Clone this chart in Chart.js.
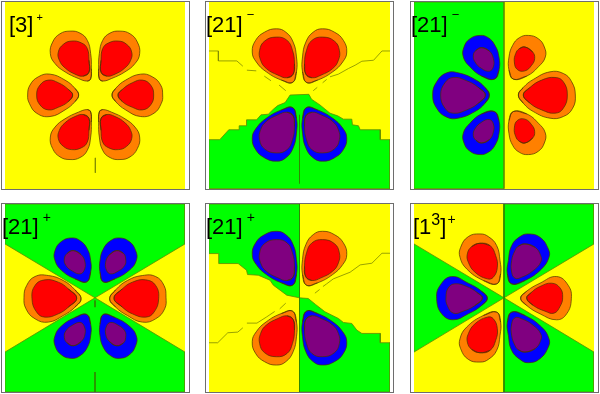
<!DOCTYPE html>
<html lang="en">
<head>
<meta charset="UTF-8">
<title>Contour panels</title>
<script src="https://cdn.jsdelivr.net/npm/chart.js"></script>
<style>
    body { margin: 0; background: #fff; font-family: "Liberation Sans", Arial, sans-serif; }
    .frame { position: absolute; border: 1px solid #6e6e6e; box-sizing: border-box; }
    canvas { position: absolute; }
    .label { position: absolute; font-size: 22px; line-height: 24px; color: #000; white-space: nowrap; }
    .label sup { line-height: 0; vertical-align: baseline; position: relative; }
</style>
</head>
<body>
<script>
// contour vertices, [x, y] from the centre of each panel
// panel 1 [3]+
const a1OuterTL = [[-13,50],[-11,81],[-13,126],[-23,166],[-45,188],[-75,194],[-105,186],[-127,161],[-134,126],[-120,96],[-90,71],[-50,51],[-23,43]];
const a1InnerTL = [[-18,70],[-18,106],[-23,141],[-40,158],[-70,164],[-95,154],[-110,131],[-107,106],[-90,83],[-60,64],[-35,58]];
const a1OuterTR = [[13,50],[11,81],[13,126],[23,166],[45,188],[75,194],[105,186],[127,161],[134,126],[120,96],[90,71],[50,51],[23,43]];
const a1InnerTR = [[18,70],[18,106],[23,141],[40,158],[70,164],[95,154],[110,131],[107,106],[90,83],[60,64],[35,58]];
const a1OuterBL = [[-13,-50],[-11,-81],[-13,-126],[-23,-166],[-45,-188],[-75,-194],[-105,-186],[-127,-161],[-134,-126],[-120,-96],[-90,-71],[-50,-51],[-23,-43]];
const a1InnerBL = [[-18,-70],[-18,-106],[-23,-141],[-40,-158],[-70,-164],[-95,-154],[-110,-131],[-107,-106],[-90,-83],[-60,-64],[-35,-58]];
const a1OuterBR = [[13,-50],[11,-81],[13,-126],[23,-166],[45,-188],[75,-194],[105,-186],[127,-161],[134,-126],[120,-96],[90,-71],[50,-51],[23,-43]];
const a1InnerBR = [[18,-70],[18,-106],[23,-141],[40,-158],[70,-164],[95,-154],[110,-131],[107,-106],[90,-83],[60,-64],[35,-58]];
const a1OuterL = [[-49,1],[-60,-19],[-90,-44],[-135,-64],[-175,-54],[-197,-24],[-202,1],[-195,31],[-170,56],[-135,64],[-90,46],[-60,21]];
const a1InnerL = [[-67,1],[-80,-19],[-110,-36],[-140,-44],[-165,-29],[-175,1],[-165,31],[-140,46],[-110,38],[-80,18]];
const a1OuterR = [[51,1],[62,-19],[92,-44],[137,-64],[177,-54],[199,-24],[203,1],[197,31],[172,56],[137,64],[92,46],[62,21]];
const a1InnerR = [[69,1],[82,-19],[112,-36],[142,-44],[167,-29],[176,1],[167,31],[142,46],[112,38],[82,18]];
const a1Tick = [[1,-189],[1,-234]];

// panel 2 [21]-
const a2Green = [[-270,-134],[-238,-134],[-211,-104],[-180,-104],[-180,-92],[-158,-92],[-158,-74],[-128,-74],[-115,-59],[-93,-57],[-78,-42],[-65,-31],[-43,-22],[-28,1],[28,3],[36,-12],[61,-29],[91,-54],[114,-62],[131,-72],[156,-72],[158,-89],[176,-92],[181,-104],[241,-104],[241,-134],[270,-134],[270,-282],[-270,-282]];
const a2OuterTL = [[-21,39],[-9,71],[-9,116],[-19,161],[-41,191],[-69,201],[-104,191],[-131,166],[-141,131],[-129,101],[-99,71],[-54,46]];
const a2InnerTL = [[-19,64],[-15,96],[-21,136],[-37,166],[-69,176],[-104,164],[-119,136],[-116,106],[-99,81],[-64,61],[-37,53]];
const a2OuterTR = [[21,39],[9,71],[9,116],[19,161],[41,191],[69,201],[104,191],[131,166],[141,131],[129,101],[99,71],[54,46]];
const a2InnerTR = [[19,64],[15,96],[21,136],[37,166],[69,176],[104,164],[119,136],[116,106],[99,81],[64,61],[37,53]];
const a2OuterBL = [[-21,-37],[-9,-69],[-9,-114],[-19,-159],[-41,-189],[-69,-199],[-104,-189],[-131,-164],[-141,-129],[-129,-99],[-99,-69],[-54,-44]];
const a2InnerBL = [[-19,-62],[-15,-94],[-21,-134],[-37,-164],[-69,-174],[-104,-162],[-119,-134],[-116,-104],[-99,-79],[-64,-59],[-37,-51]];
const a2OuterBR = [[21,-37],[9,-69],[9,-114],[19,-159],[41,-189],[69,-199],[104,-189],[131,-164],[141,-129],[129,-99],[99,-69],[54,-44]];
const a2InnerBR = [[19,-62],[15,-94],[21,-134],[37,-164],[69,-174],[104,-162],[119,-134],[116,-104],[99,-79],[64,-59],[37,-51]];
const a2Left1 = [[-270,134],[-242,134],[-242,104],[-187,104],[-169,88]];
const a2Left2 = [[-157,76],[-129,74]];
const a2Left3 = [[-105,58],[-85,44]];
const a2Left4 = [[-61,31],[-41,14]];
const a2Right1 = [[41,14],[53,24]];
const a2Right2 = [[69,38],[81,48]];
const a2Right3 = [[91,56],[116,64],[146,81],[166,91],[186,103],[221,106],[246,134],[270,134]];
const a2Stem = [[0,-59],[0,-266]];

// panel 3 [21]-
const a3Green = [[-270,282],[0,282],[0,-282],[-270,-282]];
const a3OuterTL = [[-29,49],[-15,76],[-15,116],[-27,151],[-47,174],[-72,181],[-102,171],[-120,146],[-122,116],[-102,86],[-67,58]];
const a3InnerTL = [[-67,144],[-44,134],[-32,111],[-32,86],[-44,73],[-67,81],[-87,101],[-92,121],[-84,136]];
const a3OuterL = [[-44,1],[-57,-24],[-87,-49],[-137,-69],[-172,-66],[-202,-39],[-214,1],[-202,41],[-172,68],[-137,68],[-87,48],[-57,24]];
const a3InnerL = [[-56,1],[-77,-24],[-112,-44],[-152,-54],[-177,-39],[-190,1],[-177,38],[-152,54],[-112,44],[-77,24]];
const a3OuterBL = [[-29,-49],[-15,-76],[-15,-116],[-27,-151],[-47,-172],[-72,-179],[-102,-169],[-120,-144],[-122,-114],[-102,-84],[-67,-56]];
const a3InnerBL = [[-67,-144],[-44,-134],[-32,-111],[-32,-86],[-44,-73],[-67,-81],[-87,-101],[-92,-121],[-84,-136]];
const a3OuterTR = [[28,49],[15,76],[15,116],[26,151],[46,174],[73,181],[103,171],[121,146],[124,116],[103,86],[68,58]];
const a3InnerTR = [[63,146],[86,131],[92,111],[83,91],[63,74],[40,78],[31,101],[35,126],[46,141]];
const a3OuterR = [[43,1],[58,-24],[88,-49],[138,-69],[178,-64],[206,-39],[214,1],[203,41],[178,66],[138,71],[88,48],[58,24]];
const a3InnerR = [[58,1],[78,-24],[113,-44],[153,-54],[178,-39],[190,1],[178,41],[153,54],[113,46],[78,24]];
const a3OuterBR = [[28,-49],[15,-76],[15,-116],[26,-151],[46,-172],[73,-179],[103,-169],[121,-144],[124,-114],[103,-84],[68,-56]];
const a3InnerBR = [[63,-144],[86,-129],[92,-109],[83,-89],[63,-72],[40,-76],[31,-99],[35,-124],[46,-139]];

// panel 4 [21]+
const a4Green = [[-270,282],[270,282],[270,162],[0,0],[270,-163],[270,-283],[-270,-283],[-270,-163],[0,0],[-270,162]];
const a4OuterL = [[-42,-3],[-60,-28],[-95,-53],[-140,-73],[-180,-63],[-207,-33],[-213,2],[-205,37],[-180,64],[-140,67],[-95,52],[-60,24]];
const a4InnerL = [[-55,-1],[-80,-28],[-110,-48],[-150,-58],[-175,-43],[-189,-3],[-180,37],[-150,54],[-110,47],[-80,27]];
const a4OuterR = [[44,-3],[62,-28],[97,-53],[142,-73],[182,-63],[209,-33],[213,2],[207,37],[182,64],[142,67],[97,52],[62,24]];
const a4InnerR = [[57,-1],[82,-28],[112,-48],[152,-58],[177,-43],[191,-3],[182,37],[152,54],[112,47],[82,27]];
const a4OuterTL = [[-25,48],[-13,77],[-13,112],[-23,147],[-45,172],[-70,180],[-100,170],[-120,142],[-120,112],[-100,82],[-60,57]];
const a4InnerTL = [[-65,142],[-42,130],[-30,107],[-33,82],[-45,72],[-67,80],[-87,97],[-92,117],[-83,134]];
const a4OuterTR = [[25,48],[15,77],[15,112],[25,147],[47,172],[72,180],[102,170],[122,142],[124,112],[102,82],[60,57]];
const a4InnerTR = [[65,142],[44,130],[32,107],[35,82],[47,72],[69,80],[89,97],[92,117],[85,134]];
const a4OuterBL = [[-25,-50],[-13,-79],[-13,-114],[-23,-149],[-45,-174],[-70,-182],[-100,-172],[-120,-144],[-120,-114],[-100,-84],[-60,-59]];
const a4InnerBL = [[-65,-144],[-42,-132],[-30,-109],[-33,-84],[-45,-74],[-67,-82],[-87,-99],[-92,-119],[-83,-136]];
const a4OuterBR = [[25,-50],[15,-79],[15,-114],[25,-149],[47,-174],[72,-182],[102,-172],[122,-144],[124,-114],[102,-84],[60,-59]];
const a4InnerBR = [[65,-144],[44,-132],[32,-109],[35,-84],[47,-74],[69,-82],[89,-99],[92,-119],[85,-136]];
const a4Dash = [[0,-8],[0,-28]];
const a4Stem = [[0,-223],[0,-283]];

// panel 5 [21]+
const a5GreenTL = [[-270,282],[0,282],[0,0],[-38,8],[-58,23],[-78,38],[-88,53],[-123,68],[-155,70],[-158,83],[-183,103],[-241,103],[-241,133],[-270,133]];
const a5GreenBR = [[0,0],[26,-2],[48,-20],[76,-42],[116,-62],[131,-74],[156,-77],[171,-97],[186,-107],[241,-107],[241,-135],[270,-135],[270,-283],[0,-283]];
const a5OuterTL = [[-21,38],[-9,70],[-9,115],[-19,160],[-41,190],[-69,200],[-104,190],[-131,165],[-141,130],[-129,100],[-99,70],[-54,45]];
const a5InnerTL = [[-19,63],[-15,95],[-21,135],[-37,165],[-69,175],[-104,163],[-119,135],[-116,105],[-99,80],[-64,60],[-37,52]];
const a5OuterTR = [[21,38],[9,70],[9,115],[19,160],[41,190],[69,200],[104,190],[131,165],[141,130],[129,100],[99,70],[54,45]];
const a5InnerTR = [[19,63],[15,95],[21,135],[37,165],[69,175],[104,163],[119,135],[116,105],[99,80],[64,60],[37,52]];
const a5OuterBL = [[-21,-40],[-9,-72],[-9,-117],[-19,-162],[-41,-192],[-69,-202],[-104,-192],[-131,-167],[-141,-132],[-129,-102],[-99,-72],[-54,-47]];
const a5InnerBL = [[-19,-65],[-15,-97],[-21,-137],[-37,-167],[-69,-177],[-104,-165],[-119,-137],[-116,-107],[-99,-82],[-64,-62],[-37,-54]];
const a5OuterBR = [[21,-40],[9,-72],[9,-117],[19,-162],[41,-192],[69,-202],[104,-192],[131,-167],[141,-132],[129,-102],[99,-72],[54,-47]];
const a5InnerBR = [[19,-65],[15,-97],[21,-137],[37,-167],[69,-177],[104,-165],[119,-137],[116,-107],[99,-82],[64,-62],[37,-54]];
const a5Right1 = [[46,14],[60,25]];
const a5Right2 = [[70,34],[81,42],[101,57],[151,77],[181,99],[216,104],[246,134],[270,134]];
const a5Left1 = [[-270,-135],[-244,-135],[-214,-105],[-184,-103],[-169,-90]];
const a5Left2 = [[-157,-76],[-127,-76],[-99,-58],[-74,-41]];
const a5Left3 = [[-59,-33],[-41,-16]];
const a5Stem = [[0,282],[0,-283]];

// panel 6 [1^3]+
const a6GreenL = [[-270,162],[0,0],[-270,-163]];
const a6GreenT = [[0,282],[270,282],[270,162],[0,0]];
const a6GreenB = [[0,0],[270,-163],[270,-283],[0,-283]];
const a6OuterTL = [[-22,42],[-10,72],[-12,112],[-22,157],[-47,184],[-72,192],[-107,184],[-130,152],[-132,122],[-112,87],[-62,52]];
const a6InnerTL = [[-72,164],[-42,157],[-25,127],[-20,92],[-32,62],[-50,57],[-87,77],[-107,107],[-110,132],[-97,154]];
const a6OuterTR = [[23,42],[10,72],[13,112],[23,157],[48,184],[73,192],[108,182],[133,147],[135,122],[113,87],[63,52]];
const a6InnerTR = [[63,162],[93,152],[110,127],[110,107],[88,82],[53,62],[33,59],[23,77],[23,112],[33,142],[43,155]];
const a6OuterL = [[-50,-1],[-67,-23],[-107,-48],[-152,-66],[-187,-48],[-202,-3],[-192,37],[-157,64],[-107,44],[-67,20]];
const a6InnerL = [[-65,-1],[-87,-23],[-122,-40],[-152,-46],[-170,-23],[-174,2],[-167,30],[-147,42],[-112,34],[-82,17]];
const a6OuterR = [[50,-1],[68,-23],[108,-48],[158,-66],[188,-48],[202,-3],[193,37],[158,64],[108,44],[68,20]];
const a6InnerR = [[68,-1],[88,-23],[123,-40],[150,-46],[168,-26],[176,2],[168,30],[143,44],[108,34],[83,17]];
const a6OuterBL = [[-22,-43],[-10,-73],[-12,-113],[-22,-158],[-47,-185],[-72,-193],[-107,-185],[-130,-153],[-132,-123],[-112,-88],[-62,-53]];
const a6InnerBL = [[-72,-165],[-42,-158],[-25,-128],[-20,-93],[-32,-63],[-50,-58],[-87,-78],[-107,-108],[-110,-133],[-97,-155]];
const a6OuterBR = [[23,-43],[10,-73],[13,-113],[23,-158],[48,-185],[73,-195],[108,-183],[133,-148],[135,-123],[113,-88],[63,-53]];
const a6InnerBR = [[63,-163],[93,-153],[110,-128],[110,-108],[88,-83],[53,-63],[33,-60],[23,-78],[23,-113],[33,-143],[43,-156]];
const a6Stem = [[0,282],[0,-283]];

const YELLOW = '#ffff00', GREEN = '#00ff00', ORANGE = '#ff8000', RED = '#ff0000', BLUE = '#0000ff', PURPLE = '#800080';

const panels = [
    { frame: [1, 1, 189, 189], plot: [5, 2, 180, 187], bg: YELLOW,
      regions: [],
      lobes: [[a1OuterTL, ORANGE], [a1InnerTL, RED], [a1OuterTR, ORANGE], [a1InnerTR, RED], [a1OuterL, ORANGE], [a1InnerL, RED],
              [a1OuterR, ORANGE], [a1InnerR, RED], [a1OuterBL, ORANGE], [a1InnerBL, RED], [a1OuterBR, ORANGE], [a1InnerBR, RED]],
      lines: [a1Tick], stems: [] },
    { frame: [205, 1, 189, 189], plot: [209, 2, 181, 187], bg: YELLOW,
      regions: [a2Green],
      lobes: [[a2OuterTL, ORANGE], [a2InnerTL, RED], [a2OuterTR, ORANGE], [a2InnerTR, RED],
              [a2OuterBL, BLUE], [a2InnerBL, PURPLE], [a2OuterBR, BLUE], [a2InnerBR, PURPLE]],
      lines: [a2Left1, a2Left2, a2Left3, a2Left4, a2Right1, a2Right2, a2Right3], stems: [a2Stem] },
    { frame: [410, 1, 189, 189], plot: [414, 2, 180, 187], bg: YELLOW,
      regions: [a3Green],
      lobes: [[a3OuterTL, BLUE], [a3InnerTL, PURPLE], [a3OuterL, BLUE], [a3InnerL, PURPLE], [a3OuterBL, BLUE], [a3InnerBL, PURPLE],
              [a3OuterTR, ORANGE], [a3InnerTR, RED], [a3OuterR, ORANGE], [a3InnerR, RED], [a3OuterBR, ORANGE], [a3InnerBR, RED]],
      lines: [], stems: [] },
    { frame: [1, 203, 189, 190], plot: [5, 204, 180, 188], bg: YELLOW,
      regions: [a4Green],
      lobes: [[a4OuterL, ORANGE], [a4InnerL, RED], [a4OuterR, ORANGE], [a4InnerR, RED], [a4OuterTL, BLUE], [a4InnerTL, PURPLE],
              [a4OuterTR, BLUE], [a4InnerTR, PURPLE], [a4OuterBL, BLUE], [a4InnerBL, PURPLE], [a4OuterBR, BLUE], [a4InnerBR, PURPLE]],
      lines: [], stems: [a4Dash, a4Stem] },
    { frame: [205, 203, 189, 190], plot: [209, 204, 181, 188], bg: YELLOW,
      regions: [a5GreenTL, a5GreenBR],
      lobes: [[a5OuterTL, BLUE], [a5InnerTL, PURPLE], [a5OuterTR, ORANGE], [a5InnerTR, RED],
              [a5OuterBL, ORANGE], [a5InnerBL, RED], [a5OuterBR, BLUE], [a5InnerBR, PURPLE]],
      lines: [a5Right1, a5Right2, a5Left1, a5Left2, a5Left3], stems: [a5Stem] },
    { frame: [410, 203, 189, 190], plot: [414, 204, 180, 188], bg: YELLOW,
      regions: [a6GreenL, a6GreenT, a6GreenB],
      lobes: [[a6OuterTL, ORANGE], [a6InnerTL, RED], [a6OuterTR, BLUE], [a6InnerTR, PURPLE], [a6OuterL, BLUE], [a6InnerL, PURPLE],
              [a6OuterR, ORANGE], [a6InnerR, RED], [a6OuterBL, ORANGE], [a6InnerBL, RED], [a6OuterBR, BLUE], [a6InnerBR, PURPLE]],
      lines: [], stems: [a6Stem] }
];

const labels = [
    { at: [9, 13], html: '[3]<sup style="font-size:11px;top:-11px;left:3px">+</sup>' },
    { at: [206, 13], html: '[21]<sup style="font-size:13px;top:-13px;left:4px">&minus;</sup>' },
    { at: [411, 13], html: '[21]<sup style="font-size:13px;top:-13px;left:4px">&minus;</sup>' },
    { at: [2, 215], html: '[21]<sup style="font-size:14px;top:-12px;left:4px">+</sup>' },
    { at: [206, 215], html: '[21]<sup style="font-size:14px;top:-12px;left:4px">+</sup>' },
    { at: [413, 215], html: '[1<sup style="font-size:16px;top:-9px">3</sup>]<sup style="font-size:14px;top:-10px;left:1px">+</sup>' }
];

const closed = pts => pts.concat([pts[0]]);
// walk a little past the seam so the spline has no kink where the loop joins
const looped = pts => [pts[pts.length - 1]].concat(pts, [pts[0], pts[1]]);

function buildDatasets(panel) {
    const sets = [];
    sets.push({ data: closed([[-270,282],[270,282],[270,-283],[-270,-283]]), backgroundColor: panel.bg, borderWidth: 0, fill: 'shape' });
    panel.regions.forEach(r => sets.push({ data: closed(r), backgroundColor: GREEN, borderColor: '#5f8a00', borderWidth: 0.8, fill: 'shape' }));
    panel.lines.forEach(l => sets.push({ data: l, borderColor: '#7f8a00', borderWidth: 0.8, fill: false }));
    panel.stems.forEach(l => sets.push({ data: l, borderColor: '#2f8a00', borderWidth: 1, fill: false }));
    panel.lobes.forEach(([pts, colour]) => sets.push({ data: looped(pts), backgroundColor: colour, borderColor: '#4a3200', borderWidth: 0.7, tension: 0.45, fill: 'shape' }));
    sets.forEach((s, i) => { s.order = -i; s.showLine = true; s.pointRadius = 0; });
    return sets;
}

panels.forEach((panel, i) => {
    const f = document.createElement('div');
    f.className = 'frame';
    f.style.cssText = `left:${panel.frame[0]}px;top:${panel.frame[1]}px;width:${panel.frame[2]}px;height:${panel.frame[3]}px`;
    document.body.appendChild(f);

    const c = document.createElement('canvas');
    c.width = panel.plot[2];
    c.height = panel.plot[3];
    c.style.cssText = `left:${panel.plot[0]}px;top:${panel.plot[1]}px;width:${panel.plot[2]}px;height:${panel.plot[3]}px`;
    document.body.appendChild(c);

    new Chart(c.getContext('2d'), {
        type: 'scatter',
        data: { datasets: buildDatasets(panel) },
        options: {
            responsive: false,
            animation: false,
            plugins: { legend: { display: false }, tooltip: { enabled: false } },
            scales: {
                x: { type: 'linear', min: -270, max: 270, display: false },
                y: { type: 'linear', min: -283, max: 282, display: false }
            }
        }
    });

    const t = document.createElement('div');
    t.className = 'label';
    t.style.left = labels[i].at[0] + 'px';
    t.style.top = labels[i].at[1] + 'px';
    t.innerHTML = labels[i].html;
    document.body.appendChild(t);
});
</script>
</body>
</html>
